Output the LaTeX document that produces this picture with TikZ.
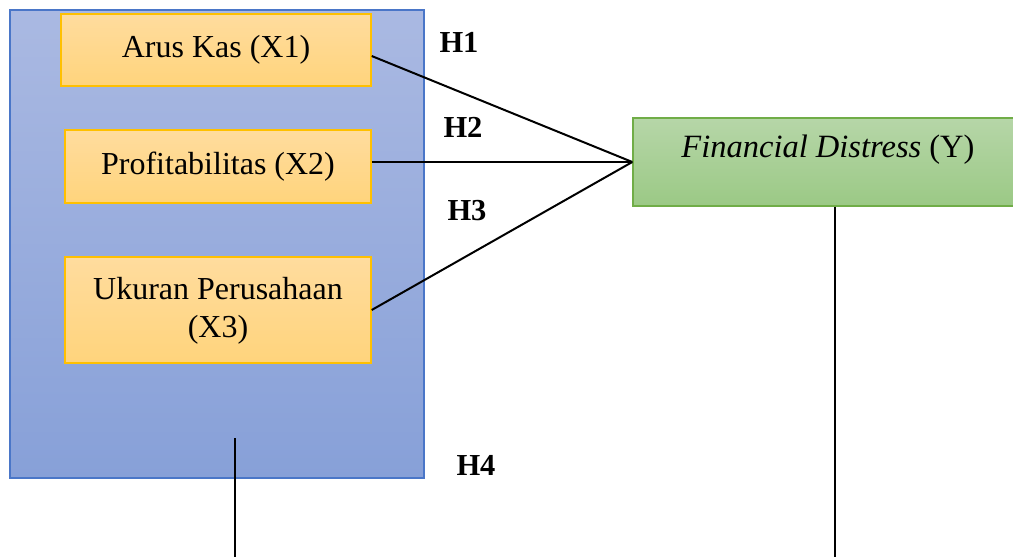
\documentclass[tikz,border=0pt]{standalone}
\usepackage{fontspec}
\setmainfont{Liberation Serif}
\definecolor{bluetop}{HTML}{AAB9E2}
\definecolor{bluebot}{HTML}{87A0D8}
\definecolor{blueline}{HTML}{4A76C8}
\definecolor{orgtop}{HTML}{FFDC9E}
\definecolor{orgbot}{HTML}{FFD47C}
\definecolor{orgline}{HTML}{FFC000}
\definecolor{grntop}{HTML}{B6D6A8}
\definecolor{grnbot}{HTML}{9BC985}
\definecolor{grnline}{HTML}{70AD47}
\tikzset{
  outerbox/.style={draw=blueline, line width=1.4pt, top color=bluetop, bottom color=bluebot, inner sep=0pt},
  varbox/.style={draw=orgline, line width=1.4pt, top color=orgtop, bottom color=orgbot, inner sep=0pt, align=center, font=\fontsize{32}{40}\selectfont},
  ybox/.style={draw=grnline, line width=1.4pt, top color=grntop, bottom color=grnbot, inner sep=0pt},
  txt/.style={font=\fontsize{32.5}{40}\selectfont, inner sep=0pt},
  hyp/.style={font=\fontsize{30.5}{36}\selectfont\bfseries, inner sep=0pt},
  conn/.style={draw=black, line width=2pt}
}
\begin{document}
\begin{tikzpicture}[x=1pt, y=-1pt]
\useasboundingbox (0,0) rectangle (1013,557);
% outer group box
\node[outerbox, minimum width=414pt, minimum height=468pt] (G) at (217,244) {};
% variable boxes
\node[varbox, minimum width=310pt, minimum height=72pt] (X1) at (216,50) {\raisebox{2.5pt}{Arus Kas (X1)}};
\node[varbox, minimum width=306pt, minimum height=73pt] (X2) at (218,166.5) {\raisebox{3.5pt}{Profitabilitas (X2)}};
\node[varbox, minimum width=306pt, minimum height=106pt] (X3) at (218,310) {\raisebox{3pt}{\begin{tabular}{@{}c@{}}Ukuran Perusahaan\\[-2pt](X3)\end{tabular}}};
% dependent box
\node[ybox, minimum width=404pt, minimum height=88pt] (Y) at (835,162) {};
\node[txt] (Yt) at (828,150) {\textit{Financial Distress} (Y)};
% hypothesis labels
\node[hyp] (H1) at (459,42) {H1};
\node[hyp] (H2) at (463,127) {H2};
\node[hyp] (H3) at (467,211) {H3};
\node[hyp] (H4) at (476,465) {H4};
% connectors
\draw[conn] ([yshift=-6pt]X1.east) -- (Y.west);
\draw[conn] ([yshift=4.5pt]X2.east) -- (Y.west);
\draw[conn] (X3.east) -- (Y.west);
\coordinate (g1) at (235,438);
\coordinate (g2) at (235,560);
\coordinate (y2) at (835,560);
\draw[conn] (g1) -- (g2);
\draw[conn] (Y.south) -- (y2);
\end{tikzpicture}
\end{document}
